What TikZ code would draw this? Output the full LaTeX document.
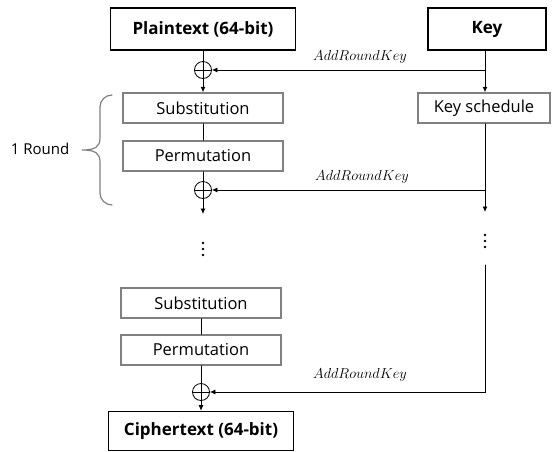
\documentclass[tikz,border=0pt]{standalone}
\usepackage{fontspec}
\setmainfont{Open Sans}
\usetikzlibrary{arrows.meta, positioning}

\begin{document}
\begin{tikzpicture}[%
        x = 1pt, y = -1pt,
        > = {Latex[length=5.5pt, width=5pt]},
        line width = 0.8pt,
        line cap = round,
        iobox/.style = {%
            draw, line width = 1.6pt, minimum height = 42pt,
            inner sep = 0pt, font = \fontsize{17}{19}\selectfont\bfseries
        },
        stagebox/.style = {%
            draw = gray, line width = 1.5pt, minimum width = 160pt,
            minimum height = 30pt, inner sep = 0pt,
            font = \fontsize{16.5}{18}\selectfont
        },
        xorsign/.style = {%
            circle, draw, minimum size = 17pt, inner sep = 0pt,
            path picture = {%
                \draw (path picture bounding box.north) -- (path picture bounding box.south)
                      (path picture bounding box.west) -- (path picture bounding box.east);
            }
        },
        arklabel/.style = {font = \fontsize{14.5}{16}\selectfont}
    ]

        \useasboundingbox (0, 0) rectangle (554, 451);

        % Input blocks.
        \node[iobox, minimum width = 185pt] (plain) at (203, 29) {Plaintext (64-bit)};
        \node[iobox, minimum width = 118pt] (key)   at (487, 29) {Key};

        % First round.
        \node[xorsign] (xor1) at (203, 70) {};
        \node[stagebox] (sub1)  at (203, 108) {Substitution};
        \node[stagebox] (perm1) at (203, 156) {Permutation};
        \node[xorsign] (xor2) at (203, 190) {};
        \node[stagebox, minimum width = 132pt] (ks) at (484, 108) {Key schedule};

        % Dots between the rounds.
        \coordinate (dotsL) at (203, 249);
        \coordinate (dotsR) at (485, 241);
        \foreach \dy in {-6, 0, 6}{%
            \fill ([yshift = \dy pt] dotsL) circle (1.3pt);
            \fill ([yshift = \dy pt] dotsR) circle (1.3pt);
        }

        % Last round.
        \node[stagebox] (sub2)  at (201, 303) {Substitution};
        \node[stagebox] (perm2) at (201, 350) {Permutation};
        \node[xorsign] (xor3) at (201, 392) {};
        \node[iobox, minimum width = 185pt, minimum height = 39pt] (cipher) at (201, 431) {Ciphertext (64-bit)};

        % Free ends of the connectors.
        \coordinate (kcol)  at (485, 0);
        \coordinate (endL)  at (203, 214);
        \coordinate (endR)  at (485, 212);
        \coordinate (startR) at (485, 265);

        % Data path.
        \draw (plain) -- (xor1);
        \draw[->] (xor1) -- (sub1);
        \draw (sub1) -- (perm1);
        \draw (perm1) -- (xor2);
        \draw[->] (xor2) -- (endL);
        \draw (sub2) -- (perm2);
        \draw (perm2) -- (xor3);
        \draw[->] (xor3) -- (cipher);

        % Key path.
        \draw[->] (key.south -| kcol) -- (ks.north -| kcol);
        \draw[->] (kcol |- xor1) -- (xor1);
        \draw[->] (ks.south -| kcol) -- (endR);
        \draw[->] (endR |- xor2) -- (xor2);
        \draw[->] (startR) |- (xor3);

        % Round keys.
        \node[arklabel] (ark1) at (360, 57)  {$AddRoundKey$};
        \node[arklabel] (ark2) at (362, 177) {$AddRoundKey$};
        \node[arklabel] (ark3) at (360, 375) {$AddRoundKey$};

        % Brace around one round.
        \draw[gray, line width = 1.2pt]
            (112, 95) to [out = 180, in = 90] (100, 107) -- (100, 138)
            .. controls (100, 147) and (95, 150) .. (82, 150)
            .. controls (95, 150) and (100, 153) .. (100, 162)
            -- (100, 193) to [out = -90, in = 180] (112, 205);
        \node[font = \fontsize{15}{17}\selectfont, anchor = east] (round) at (73, 149) {1 Round};
    \end{tikzpicture}
\end{document}
